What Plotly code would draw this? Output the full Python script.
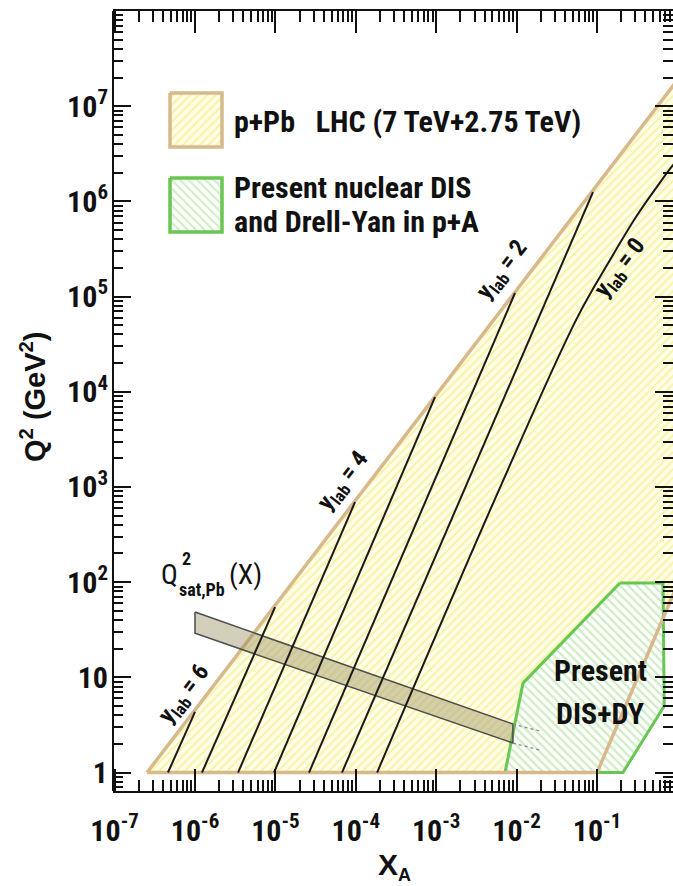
import plotly.graph_objects as go

# ---------------- data ----------------
# p+Pb LHC kinematic region (x_A, Q^2)
lhc_x = [2.53e-7, 1.0, 1.0, 0.1, 2.53e-7]
lhc_q2 = [1.0, 1.88e7, 94.0, 1.0, 1.0]

# Present nuclear DIS + Drell-Yan region
dis_x = [0.193, 0.662, 0.685, 0.21, 0.00718, 0.0120, 0.193]
dis_q2 = [98.0, 98.0, 5.0, 1.0, 1.0, 8.7, 98.0]

# Saturation scale band Q^2_sat,Pb(x)
sat_x = [1.0e-6, 9.0e-3]
sat_q2_hi = [48.5, 3.23]
sat_q2_lo = [29.0, 2.04]
sat_ext_x = [9.0e-3, 1.95e-2]
sat_ext_hi = [3.23, 2.73]
sat_ext_lo = [2.04, 1.72]

# constant y_lab lines
ylab6_x = [4.61e-7, 1.0e-6]
ylab6_q2 = [1.0, 4.33]
ylab5_x = [1.22e-6, 9.9e-6]
ylab5_q2 = [1.0, 54.7]
ylab4_x = [3.43e-6, 9.77e-5]
ylab4_q2 = [1.0, 693.0]
ylab3_x = [9.6e-6, 9.66e-4]
ylab3_q2 = [1.0, 8790.0]
ylab2_x = [2.62e-5, 9.55e-3]
ylab2_q2 = [1.0, 1.09e5]
ylab1_x = [6.73e-5, 8.91e-2]
ylab1_q2 = [1.0, 1.25e6]
ylab0_x = [1.84e-4, 6.58e-3, 5.64e-2, 0.145, 0.305, 0.542, 0.881, 1.0]
ylab0_q2 = [1.0, 1099.0, 5.94e4, 2.42e5, 6.84e5, 1.38e6, 2.40e6, 2.63e6]

# ticks
x_tickvals = [1e-7, 1e-6, 1e-5, 1e-4, 1e-3, 1e-2, 1e-1]
x_ticktext = ["10<sup>-7</sup>", "10<sup>-6</sup>", "10<sup>-5</sup>", "10<sup>-4</sup>",
              "10<sup>-3</sup>", "10<sup>-2</sup>", "10<sup>-1</sup>"]
y_tickvals = [1, 10, 1e2, 1e3, 1e4, 1e5, 1e6, 1e7, 1e8]
y_ticktext = ["1", "10", "10<sup>2</sup>", "10<sup>3</sup>", "10<sup>4</sup>",
              "10<sup>5</sup>", "10<sup>6</sup>", "10<sup>7</sup>", "10<sup>8</sup>"]

# ---------------- style ----------------
NARROW = "Liberation Sans Narrow, Arial Narrow, Roboto Condensed, sans-serif"
SANS = "Liberation Sans, Arial, Helvetica, sans-serif"
TAN = "#D8B98B"
GREEN = "#68C653"
Y_BG, Y_FG = "#FFFEE6", "#F3E66E"
G_BG, G_FG = "#FFFFFF", "#9EDC8A"

W, H = 673, 886
L, R, T, B = 113, 673, 11, 791


def px(xp):
    return (xp - L) / (R - L)


def py(yp):
    return (B - yp) / (B - T)


minor_x = [m * 10.0 ** e for e in range(-7, 0) for m in range(2, 10)]
minor_y = [0.7, 0.8, 0.9] + [m * 10.0 ** e for e in range(0, 8) for m in range(2, 10)]

fig = go.Figure()

# LHC region fill
fig.add_trace(go.Scatter(x=lhc_x, y=lhc_q2, mode="lines", line=dict(width=0),
                         fill="toself", fillcolor=Y_BG,
                         fillpattern=dict(shape="/", bgcolor=Y_BG, fgcolor=Y_FG,
                                          size=6, solidity=0.33),
                         hoverinfo="skip", showlegend=False))
# DIS region fill
fig.add_trace(go.Scatter(x=dis_x, y=dis_q2, mode="lines", line=dict(width=0),
                         fill="toself", fillcolor=G_BG,
                         fillpattern=dict(shape="\\", bgcolor=G_BG, fgcolor=G_FG,
                                          size=6, solidity=0.38),
                         hoverinfo="skip", showlegend=False))
# borders
fig.add_trace(go.Scatter(x=dis_x, y=dis_q2, mode="lines",
                         line=dict(color=GREEN, width=3), hoverinfo="skip", showlegend=False))
fig.add_trace(go.Scatter(x=lhc_x, y=lhc_q2, mode="lines",
                         line=dict(color=TAN, width=3.5), hoverinfo="skip", showlegend=False))

# saturation band
band_x = sat_x + sat_x[::-1] + [sat_x[0]]
band_y = sat_q2_hi + sat_q2_lo[::-1] + [sat_q2_hi[0]]
fig.add_trace(go.Scatter(x=band_x, y=band_y, mode="lines", fill="toself",
                         fillcolor="rgba(150,140,90,0.42)",
                         line=dict(color="#4d4d4d", width=1.5),
                         hoverinfo="skip", showlegend=False))

# y_lab lines
for lx, ly in [(ylab6_x, ylab6_q2), (ylab5_x, ylab5_q2), (ylab4_x, ylab4_q2),
               (ylab3_x, ylab3_q2), (ylab2_x, ylab2_q2), (ylab1_x, ylab1_q2),
               (ylab0_x, ylab0_q2)]:
    fig.add_trace(go.Scatter(x=lx, y=ly, mode="lines", line=dict(color="#1a1a1a", width=2),
                             line_shape="spline" if len(lx) > 2 else "linear",
                             hoverinfo="skip", showlegend=False))

# dotted continuation of the band
for ey in (sat_ext_hi, sat_ext_lo):
    fig.add_trace(go.Scatter(x=sat_ext_x, y=ey, mode="lines",
                             line=dict(color="#8a8a8a", width=1.2, dash="dot"),
                             hoverinfo="skip", showlegend=False))

# legend swatches (pixel overlay axes)
for (x0, x1, y0, y1, shape, bg, fg, col) in [
        (170, 222, 93, 147, "/", Y_BG, Y_FG, TAN),
        (170, 222, 178, 232, "\\", G_BG, G_FG, GREEN)]:
    fig.add_trace(go.Scatter(x=[x0, x1, x1, x0, x0], y=[y0, y0, y1, y1, y0],
                             xaxis="x2", yaxis="y2", mode="lines",
                             line=dict(color=col, width=3.5), fill="toself", fillcolor=bg,
                             fillpattern=dict(shape=shape, bgcolor=bg, fgcolor=fg,
                                              size=6, solidity=0.35),
                             hoverinfo="skip", showlegend=False))

ann = []


def add_text(text, xp, yp, size, family=NARROW, weight="bold", xanchor="center",
             angle=0, color="#111111"):
    ann.append(dict(text=text, x=px(xp), y=py(yp), xref="paper", yref="paper",
                    xanchor=xanchor, yanchor="middle", showarrow=False, textangle=angle,
                    font=dict(family=family, size=size, color=color, weight=weight)))


NB = "\u00a0"
add_text("p+Pb" + NB * 3 + "LHC (7 TeV+2.75 TeV)", 232, 121, 30, xanchor="left")
add_text("Present nuclear DIS", 232, 188, 30, xanchor="left")
add_text("and Drell-Yan in p+A", 232, 221, 30, xanchor="left")

ANG = -52.6
add_text("y<sub>lab</sub> = 6", 184, 694, 24, angle=ANG)
add_text("y<sub>lab</sub> = 4", 343, 481, 24, angle=ANG)
add_text("y<sub>lab</sub> = 2", 502, 270, 24, angle=ANG)
add_text("y<sub>lab</sub> = 0", 620, 268, 24, angle=ANG)

add_text("Q", 169, 574, 28, weight="normal")
add_text("2", 186, 558, 18, weight="bold")
add_text("sat,Pb", 202, 589, 18, weight="bold")
add_text("(X)", 245, 574, 28, weight="normal")

add_text("Present", 600, 670, 30)
add_text("DIS+DY", 600, 713, 30)

add_text("Q<sup>2</sup> (GeV<sup>2</sup>)", 33, 397, 29, family=SANS, angle=-90)
add_text("X<sub><span style='font-size:18px'>A</span></sub>", 394, 866, 30, family=SANS)

tickfont = dict(family=NARROW, size=30, color="#111111", weight="bold")

fig.update_layout(
    width=W, height=H,
    margin=dict(l=L, r=W - R, t=T, b=H - B),
    paper_bgcolor="white", plot_bgcolor="white",
    showlegend=False,
    annotations=ann,
    xaxis=dict(type="log", range=[-7.02, -0.055], showgrid=False, zeroline=False,
               tickmode="array", tickvals=x_tickvals, ticktext=x_ticktext,
               ticks="inside", ticklen=22, tickwidth=2, tickcolor="#111",
               showline=True, linewidth=2, linecolor="#111", mirror="ticks",
               tickfont=tickfont, ticklabelstandoff=12,
               minor=dict(tickmode="array", tickvals=minor_x, ticks="inside",
                          ticklen=11, tickwidth=1.5, tickcolor="#111", showgrid=False)),
    yaxis=dict(type="log", range=[-0.194, 8.0], showgrid=False, zeroline=False,
               tickmode="array", tickvals=y_tickvals, ticktext=y_ticktext,
               ticks="inside", ticklen=18, tickwidth=2, tickcolor="#111",
               showline=False, mirror="ticks",
               tickfont=tickfont, ticklabelstandoff=4,
               minor=dict(tickmode="array", tickvals=minor_y, ticks="inside",
                          ticklen=10, tickwidth=1.5, tickcolor="#111", showgrid=False)),
    xaxis2=dict(overlaying="x", range=[L, R], visible=False, anchor="y2"),
    yaxis2=dict(overlaying="y", range=[B, T], visible=False, anchor="x2"),
    shapes=[dict(type="line", xref="paper", yref="paper", x0=0, x1=0, y0=0, y1=1,
                 line=dict(color="#111", width=2))],
)

fig.write_html("out.html")
